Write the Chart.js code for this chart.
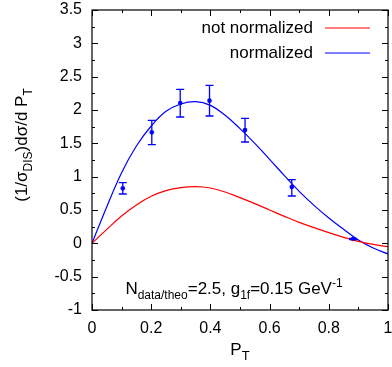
<!DOCTYPE html>
<html><head><meta charset="utf-8">
<script src="https://cdn.jsdelivr.net/npm/chart.js@4"></script>
<style>html,body{margin:0;padding:0;background:#fff}#w{width:392px;height:367px}</style>
</head><body><div id="w"><canvas id="c" width="392" height="367"></canvas></div>
<script>
// ---- data ----
const curveX = [0,0.05,0.1,0.15,0.2,0.25,0.3,0.35,0.4,0.45,0.5,0.55,0.6,0.65,0.7,0.75,0.8,0.85,0.9,0.95,1.0];
const notNormalized = [0,0.21,0.41,0.575,0.705,0.79,0.835,0.85,0.83,0.77,0.685,0.595,0.50,0.405,0.315,0.235,0.16,0.09,0.03,-0.015,-0.05];
const normalized = [0,0.55,1.06,1.46,1.76,1.98,2.09,2.125,2.07,1.92,1.72,1.50,1.26,1.015,0.78,0.57,0.38,0.21,0.05,-0.07,-0.16];
const dataX = [0.104,0.202,0.298,0.397,0.517,0.675,0.882];
const dataY = [0.825,1.665,2.105,2.14,1.70,0.845,0.065];
const errLow = [0.74,1.48,1.895,1.91,1.52,0.71,0.055];
const errHigh = [0.91,1.845,2.31,2.37,1.875,0.955,0.075];
const xTicks = [0,0.2,0.4,0.6,0.8,1];
const xMinor = [0.1,0.3,0.5,0.7,0.9];
const yTicks = [-1,-0.5,0,0.5,1,1.5,2,2.5,3,3.5];
const yMinor = [-0.75,-0.25,0.25,0.75,1.25,1.75,2.25,2.75,3.25];
const seriesLabels = ['not normalized','normalized'];
const seriesColors = ['#ff0000','#0000ff'];

const FONT = '"Liberation Sans", Arial, sans-serif';
const fmt = v => String(Math.round(v*100)/100);

function drawRich(ctx, segs, x, y, align) {
  let w = 0;
  segs.forEach(s => { ctx.font = s.size + 'px ' + FONT; s.w = ctx.measureText(s.t).width; w += s.w; });
  let cx = align === 'center' ? x - w/2 : (align === 'right' ? x - w : x);
  ctx.textAlign = 'left'; ctx.textBaseline = 'alphabetic';
  segs.forEach(s => { ctx.font = s.size + 'px ' + FONT; ctx.fillText(s.t, cx, y + (s.dy||0)); cx += s.w; });
}

const decor = {
  id: 'decor',
  afterDatasetsDraw(chart) {
    const {ctx, chartArea: a, scales: {x, y}} = chart;
    ctx.save();
    // error bars
    ctx.strokeStyle = '#0000ff'; ctx.lineWidth = 1.3;
    dataX.forEach((v, i) => {
      const px = x.getPixelForValue(v), pl = y.getPixelForValue(errLow[i]), ph = y.getPixelForValue(errHigh[i]);
      ctx.beginPath();
      ctx.moveTo(px, pl); ctx.lineTo(px, ph);
      ctx.moveTo(px-4, pl); ctx.lineTo(px+4, pl);
      ctx.moveTo(px-4, ph); ctx.lineTo(px+4, ph);
      ctx.stroke();
    });
    // frame
    ctx.strokeStyle = '#000'; ctx.lineWidth = 1.2;
    ctx.strokeRect(a.left, a.top, a.right - a.left, a.bottom - a.top);
    ctx.lineWidth = 1;
    ctx.beginPath();
    const tx = (v, L) => { const p = Math.round(x.getPixelForValue(v)) + 0.5;
      ctx.moveTo(p, a.bottom); ctx.lineTo(p, a.bottom - L); ctx.moveTo(p, a.top); ctx.lineTo(p, a.top + L); };
    const ty = (v, L) => { const p = Math.round(y.getPixelForValue(v)) + 0.5;
      ctx.moveTo(a.left, p); ctx.lineTo(a.left + L, p); ctx.moveTo(a.right, p); ctx.lineTo(a.right - L, p); };
    xTicks.forEach(v => tx(v, 6)); xMinor.forEach(v => tx(v, 3));
    yTicks.forEach(v => ty(v, 6)); yMinor.forEach(v => ty(v, 3));
    ctx.stroke();
    // legend
    ctx.fillStyle = '#000';
    seriesLabels.forEach((lab, i) => {
      const ly = a.top + 18 + i * 25;
      ctx.font = '17px ' + FONT; ctx.textAlign = 'right'; ctx.textBaseline = 'middle';
      ctx.fillText(lab, 313, ly);
      ctx.strokeStyle = seriesColors[i]; ctx.lineWidth = 1.2;
      ctx.beginPath(); ctx.moveTo(325, ly); ctx.lineTo(370, ly); ctx.stroke();
    });
    // annotation
    ctx.fillStyle = '#000';
    drawRich(ctx, [
      {t:'N', size:17}, {t:'data/theo', size:12, dy:5}, {t:'=2.5, g', size:17}, {t:'1f', size:12, dy:5},
      {t:'=0.15 GeV', size:17}, {t:'-1', size:12, dy:-7}], 234, 294, 'center');
    // x title
    drawRich(ctx, [{t:'P', size:17}, {t:'T', size:13, dy:5}], a.left + (a.right - a.left)/2, 355, 'center');
    // y title
    ctx.translate(27, 145); ctx.rotate(-Math.PI/2);
    drawRich(ctx, [{t:'(1/σ', size:17}, {t:'DIS', size:12, dy:5}, {t:')dσ/d P', size:17}, {t:'T', size:12, dy:5}], 0, 0, 'center');
    ctx.restore();
  }
};

new Chart(document.getElementById('c'), {
  type: 'line',
  data: {
    datasets: [
      { label: seriesLabels[0], data: curveX.map((v,i)=>({x:v, y:notNormalized[i]})), borderColor: seriesColors[0],
        borderWidth: 1.2, pointRadius: 0, tension: 0.4, fill: false },
      { label: seriesLabels[1], data: curveX.map((v,i)=>({x:v, y:normalized[i]})), borderColor: seriesColors[1],
        borderWidth: 1.2, pointRadius: 0, tension: 0.4, fill: false },
      { label: 'data', data: dataX.map((v,i)=>({x:v, y:dataY[i]})), showLine: false, pointRadius: 2.3,
        pointBackgroundColor: '#0000ff', pointBorderColor: '#0000ff', borderWidth: 0 }
    ]
  },
  options: {
    responsive: false, animation: false, devicePixelRatio: 1,
    layout: { padding: { top: 10, right: 1, left: 0, bottom: 0 } },
    plugins: { legend: { display: false }, tooltip: { enabled: false } },
    scales: {
      x: { type: 'linear', min: 0, max: 1,
        afterBuildTicks: s => { s.ticks = xTicks.map(v => ({value: v})); },
        afterFit: s => { s.paddingLeft = 0; s.paddingRight = 0; s.height = 57; },
        ticks: { callback: fmt, color: '#000', font: { family: FONT, size: 16 }, padding: 9, maxRotation: 0, autoSkip: false },
        grid: { display: false, drawTicks: false }, border: { display: false } },
      y: { type: 'linear', min: -1, max: 3.5,
        afterBuildTicks: s => { s.ticks = yTicks.map(v => ({value: v})); },
        afterFit: s => { s.paddingTop = 0; s.paddingBottom = 0; s.width = 92; },
        ticks: { callback: fmt, color: '#000', font: { family: FONT, size: 16 }, padding: 10, autoSkip: false },
        grid: { display: false, drawTicks: false }, border: { display: false } }
    }
  },
  plugins: [decor]
});
</script></body></html>
